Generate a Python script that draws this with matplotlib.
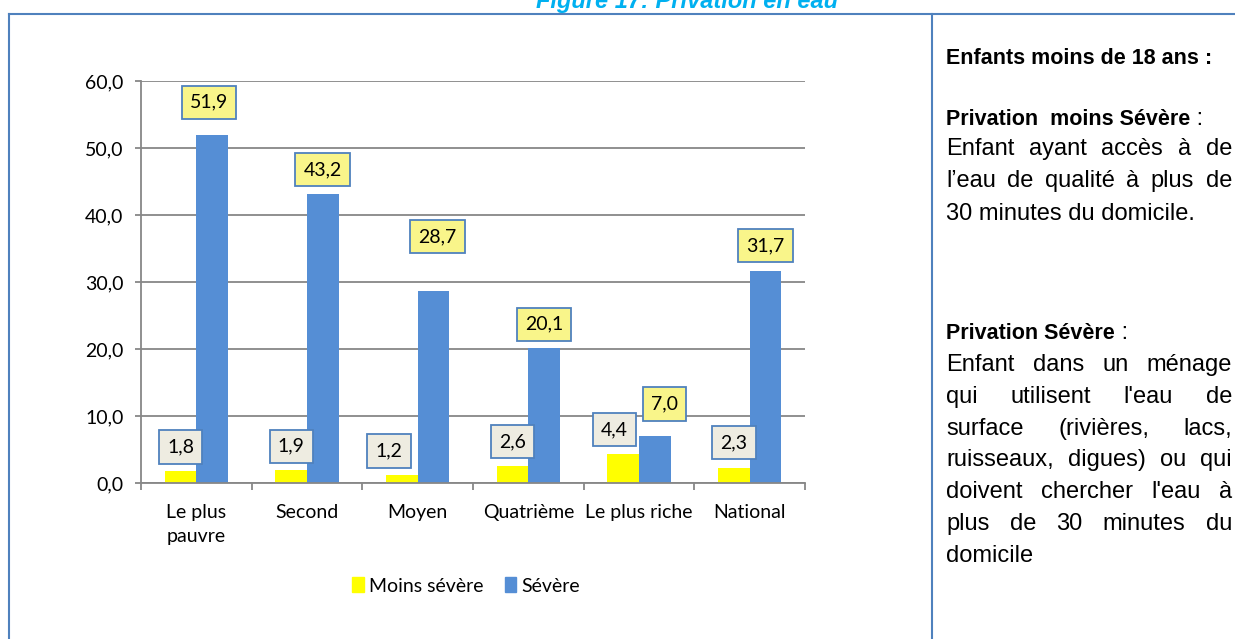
import matplotlib
matplotlib.use("Agg")
import matplotlib.pyplot as plt
from matplotlib.lines import Line2D
from matplotlib.patches import Patch
from matplotlib.ticker import FuncFormatter
import numpy as np

W, H = 1235, 639

categories = ["Le plus\npauvre", "Second", "Moyen", "Quatrième", "Le plus riche", "National"]
moins_severe = [1.8, 1.9, 1.2, 2.6, 4.4, 2.3]
severe = [51.9, 43.2, 28.7, 20.1, 7.0, 31.7]
yticks = [0, 10, 20, 30, 40, 50, 60]

# where the labels sit relative to their bar (pixels)
moins_off = [(0, 24), (0, 24), (-13, 24), (0, 24), (-9, 24), (0, 25)]
severe_off = [(-3, 33), (0, 24), (4, 54), (0, 24), (10, 32), (0, 25)]

YELLOW = "#FFFF00"
BLUE = "#558ED5"
BORDER = "#4F81BD"
GRID = "#878787"

chart_font = "Lato"
text_font = "Liberation Sans"
CS = 14

fig = plt.figure(figsize=(W / 100, H / 100), dpi=100)
ax = fig.add_axes([141 / W, 1 - 483 / H, 664 / W, 402 / H])

x = np.arange(len(categories))
w = 0.285
ax.bar(x - w / 2, moins_severe, w, color=YELLOW, zorder=2)
ax.bar(x + w / 2, severe, w, color=BLUE, zorder=2)

def fmt(v):
    return f"{v:.1f}".replace(".", ",")

for i in range(len(categories)):
    dx, dy = moins_off[i]
    ax.annotate(fmt(moins_severe[i]), xy=(x[i] - w / 2, moins_severe[i]), xytext=(dx, dy),
                textcoords="offset pixels", ha="center", va="center", fontsize=CS,
                family=chart_font, zorder=5,
                bbox=dict(boxstyle="square,pad=0.42", fc="#EEECE1", ec=BORDER, lw=1.3))
    dx, dy = severe_off[i]
    ax.annotate(fmt(severe[i]), xy=(x[i] + w / 2, severe[i]), xytext=(dx, dy),
                textcoords="offset pixels", ha="center", va="center", fontsize=CS,
                family=chart_font, zorder=5,
                bbox=dict(boxstyle="square,pad=0.42", fc="#F9F58A", ec=BORDER, lw=1.3))

ax.set_ylim(0, 60)
ax.set_xlim(-0.5, len(categories) - 0.5)
ax.set_yticks(yticks)
ax.yaxis.set_major_formatter(FuncFormatter(lambda v, p: fmt(v)))
ax.yaxis.grid(True, color=GRID, lw=1.3, zorder=0)
ax.set_axisbelow(True)
for s in ["top", "right"]:
    ax.spines[s].set_visible(False)
for s in ["left", "bottom"]:
    ax.spines[s].set_color(GRID)
    ax.spines[s].set_linewidth(1.3)
ax.tick_params(axis="y", length=4.5, width=1.3, color=GRID, pad=8, labelsize=CS)

ax.set_xticks(np.arange(-0.5, len(categories), 1))
ax.set_xticklabels([])
ax.set_xticks(x, minor=True)
ax.set_xticklabels(categories, minor=True, linespacing=1.5)
ax.tick_params(axis="x", which="major", length=5, width=1.3, color=GRID)
ax.tick_params(axis="x", which="minor", length=0, pad=15, labelsize=CS)
for lab in ax.get_xticklabels(minor=True) + ax.get_yticklabels():
    lab.set_family(chart_font)

handles = [Patch(color=YELLOW, label="Moins sévère"), Patch(color=BLUE, label="Sévère")]
fig.legend(handles=handles, loc="center", bbox_to_anchor=(466 / W, 1 - 586 / H), ncol=2,
           frameon=False, handlelength=0.6, handleheight=0.8, handletextpad=0.25,
           columnspacing=1.1, prop={"family": chart_font, "size": CS})

# frame lines of the page
fig.add_artist(Line2D([9 / W, 1], [1 - 14 / H] * 2, color=BORDER, lw=1.5))
fig.add_artist(Line2D([9 / W] * 2, [0, 1 - 14 / H], color=BORDER, lw=1.5))
fig.add_artist(Line2D([932 / W] * 2, [0, 1 - 14 / H], color=BORDER, lw=1.5))

fig.text(687 / W, 1 - 8 / H, "Figure 17: Privation en eau", ha="center", va="baseline",
         fontsize=17, fontweight="bold", fontstyle="italic", color="#00B0F0", family=text_font)

# right-hand text block
renderer = fig.canvas.get_renderer()
X0, X1 = 946, 1232
SIZES = {"normal": 17, "bold": 15.5}

def width_of(s, weight):
    t = fig.text(0, 0, s, fontsize=SIZES[weight], family=text_font, fontweight=weight)
    wpx = t.get_window_extent(renderer).width
    t.remove()
    return wpx

def put(xp, yp, s, weight):
    fig.text(xp / W, 1 - yp / H, s, fontsize=SIZES[weight], family=text_font,
             fontweight=weight, ha="left", va="baseline")

def line(yp, segments, justify=False):
    if justify:
        words = []
        for s, wt in segments:
            words += [(t, wt) for t in s.split()]
        widths = [width_of(t, wt) for t, wt in words]
        gap = (X1 - X0 - sum(widths)) / (len(words) - 1)
        xp = X0
        for (t, wt), wd in zip(words, widths):
            put(xp, yp, t, wt)
            xp += wd + gap
    else:
        xp = X0
        for s, wt in segments:
            put(xp, yp, s, wt)
            xp += width_of(s, wt)

B = 7  # baseline sits this far below the line centre
line(57 + B, [("Enfants moins de 18 ans :", "bold")])
line(118 + B, [("Privation  moins Sévère", "bold"), (" :", "normal")])
para1 = ["Enfant ayant accès à de", "l’eau de qualité à plus de", "30 minutes du domicile."]
y1 = [148, 180, 213]
for i, s in enumerate(para1):
    line(y1[i] + B, [(s, "normal")], justify=i < len(para1) - 1)

line(332 + B, [("Privation Sévère", "bold"), (" :", "normal")])
para2 = ["Enfant dans un ménage", "qui utilisent l'eau de", "surface (rivières, lacs,",
         "ruisseaux, digues) ou qui", "doivent chercher l'eau à", "plus de 30 minutes du",
         "domicile"]
y2 = [364, 396, 428, 459, 491, 523, 555]
for i, s in enumerate(para2):
    line(y2[i] + B, [(s, "normal")], justify=i < len(para2) - 1)

fig.savefig("out.png", dpi=100)
